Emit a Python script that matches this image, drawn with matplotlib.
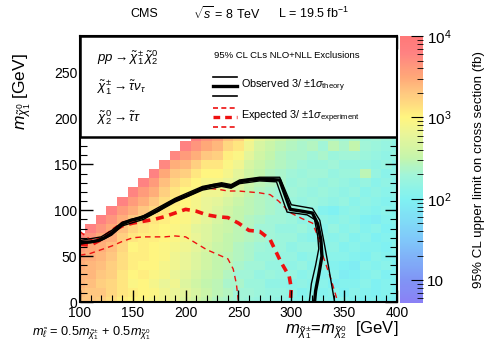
import numpy as np
import matplotlib
matplotlib.use('Agg')
from matplotlib import pyplot as plt
from matplotlib.colors import LinearSegmentedColormap, LogNorm
from matplotlib.patches import Rectangle
import matplotlib.ticker as ticker

plt.rcParams['font.family'] = ['Liberation Sans', 'DejaVu Sans']
plt.rcParams['mathtext.fontset'] = 'custom'
plt.rcParams['mathtext.rm'] = 'Liberation Sans'
plt.rcParams['mathtext.it'] = 'Liberation Sans:italic'
plt.rcParams['mathtext.bf'] = 'Liberation Sans:bold'

# grid of mass points (GeV)
mass_chargino = list(range(100, 401, 10))
mass_lsp = list(range(0, 181, 10))

# log10 of the 95% CL upper limit (fb), one list per chargino mass, from m_lsp = 0 upwards
limit_log10 = [
    [3.30, 3.35, 3.40, 3.40, 3.45, 3.50, 3.60, 3.75],
    [3.30, 3.30, 3.35, 3.40, 3.40, 3.45, 3.50, 3.65, 3.80],
    [3.25, 3.30, 3.25, 3.30, 3.35, 3.40, 3.45, 3.50, 3.65, 3.80],
    [3.15, 3.20, 3.20, 3.25, 3.25, 3.30, 3.35, 3.45, 3.50, 3.65, 3.80],
    [3.05, 3.10, 3.10, 3.10, 3.15, 3.15, 3.20, 3.25, 3.35, 3.45, 3.60, 3.80],
    [3.00, 3.05, 2.95, 3.00, 3.05, 3.05, 3.00, 3.10, 3.20, 3.30, 3.45, 3.60, 3.78],
    [2.95, 3.00, 3.00, 3.05, 3.00, 3.05, 3.05, 3.05, 3.10, 3.20, 3.30, 3.45, 3.60, 3.80],
    [2.90, 2.95, 2.90, 2.95, 3.00, 3.00, 3.00, 3.05, 3.05, 3.10, 3.20, 3.30, 3.45, 3.60, 3.80],
    [2.85, 2.85, 2.80, 2.90, 2.90, 2.95, 2.95, 3.00, 3.00, 3.05, 3.10, 3.15, 3.25, 3.35, 3.50, 3.75],
    [2.80, 2.80, 2.85, 2.80, 2.85, 2.85, 2.90, 2.95, 2.95, 3.00, 3.00, 3.05, 3.10, 3.20, 3.30, 3.45, 3.75],
    [2.70, 2.75, 2.70, 2.75, 2.80, 2.80, 2.85, 2.90, 2.90, 2.95, 2.95, 3.00, 3.00, 3.10, 3.25, 3.40, 3.60, 3.80],
    [2.60, 2.65, 2.60, 2.65, 2.70, 2.70, 2.75, 2.80, 2.75, 2.85, 2.90, 2.90, 2.95, 3.00, 3.10, 3.25, 3.45, 3.65, 3.80],
    [2.50, 2.55, 2.50, 2.55, 2.60, 2.60, 2.65, 2.70, 2.70, 2.75, 2.80, 2.80, 2.85, 2.90, 3.00, 3.10, 3.30, 3.50, 3.65],
    [2.40, 2.45, 2.45, 2.50, 2.50, 2.50, 2.55, 2.60, 2.60, 2.65, 2.70, 2.75, 2.85, 2.90, 3.00, 3.10, 3.25, 3.40, 3.55],
    [2.35, 2.40, 2.35, 2.40, 2.45, 2.45, 2.50, 2.50, 2.55, 2.55, 2.60, 2.65, 2.75, 2.80, 2.90, 2.95, 3.05, 3.20, 3.35],
    [2.30, 2.30, 2.35, 2.30, 2.35, 2.40, 2.40, 2.45, 2.45, 2.50, 2.50, 2.55, 2.65, 2.70, 2.75, 2.85, 2.95, 3.10, 3.25],
    [2.25, 2.30, 2.25, 2.30, 2.30, 2.35, 2.35, 2.40, 2.40, 2.40, 2.45, 2.45, 2.50, 2.55, 2.60, 2.65, 2.75, 2.85, 2.95],
    [2.20, 2.25, 2.25, 2.20, 2.30, 2.25, 2.30, 2.35, 2.30, 2.35, 2.40, 2.40, 2.40, 2.45, 2.50, 2.55, 2.60, 2.65, 2.75],
    [2.20, 2.20, 2.15, 2.25, 2.20, 2.25, 2.25, 2.30, 2.30, 2.30, 2.35, 2.35, 2.35, 2.40, 2.40, 2.45, 2.50, 2.55, 2.65],
    [2.15, 2.20, 2.15, 2.20, 2.20, 2.20, 2.25, 2.25, 2.20, 2.30, 2.30, 2.30, 2.30, 2.35, 2.35, 2.40, 2.40, 2.45, 2.55],
    [2.10, 2.15, 2.10, 2.20, 2.15, 2.20, 2.15, 2.25, 2.20, 2.25, 2.20, 2.25, 2.30, 2.25, 2.30, 2.35, 2.35, 2.40, 2.45],
    [2.10, 2.05, 2.15, 2.10, 2.20, 2.10, 2.20, 2.15, 2.25, 2.15, 2.25, 2.20, 2.25, 2.30, 2.25, 2.30, 2.35, 2.35, 2.40],
    [2.05, 2.10, 2.10, 2.15, 2.10, 2.15, 2.20, 2.10, 2.15, 2.20, 2.20, 2.25, 2.20, 2.25, 2.30, 2.25, 2.30, 2.40, 2.35],
    [2.10, 2.05, 2.10, 2.05, 2.15, 2.10, 2.10, 2.15, 2.10, 2.15, 2.05, 2.20, 2.25, 2.20, 2.30, 2.25, 2.35, 2.30, 2.40],
    [2.05, 2.10, 2.00, 2.10, 2.05, 2.10, 2.15, 2.10, 2.20, 2.10, 2.00, 2.15, 2.20, 2.25, 2.20, 2.30, 2.25, 2.45, 2.35],
    [2.10, 2.00, 2.05, 1.95, 2.00, 2.10, 2.05, 2.15, 2.10, 2.15, 2.10, 2.20, 2.15, 2.20, 2.25, 2.20, 2.30, 2.35, 2.30],
    [2.05, 2.10, 2.05, 2.00, 1.95, 2.05, 2.10, 2.05, 2.15, 2.10, 2.15, 2.10, 2.20, 2.15, 2.25, 2.20, 2.30, 2.50, 2.35],
    [2.00, 2.05, 2.10, 2.05, 2.10, 2.00, 2.05, 2.10, 2.05, 2.00, 2.10, 2.15, 2.10, 2.20, 2.45, 2.20, 2.25, 2.30, 2.25],
    [2.05, 2.00, 2.00, 2.10, 2.05, 2.10, 2.05, 2.00, 2.10, 1.95, 2.05, 2.10, 2.15, 2.10, 2.20, 2.15, 2.20, 2.25, 2.30],
    [2.00, 2.05, 2.05, 2.00, 2.10, 2.05, 2.00, 2.05, 2.00, 2.05, 2.10, 2.05, 2.10, 2.15, 2.10, 2.20, 2.15, 2.20, 2.25],
    [1.95, 2.00, 2.00, 2.05, 2.00, 2.05, 2.10, 2.05, 2.05, 2.10, 2.05, 2.10, 2.15, 2.10, 2.15, 2.10, 2.20, 2.15, 2.20],
]

# exclusion contours (m_chargino, m_lsp)
obs_x = [100, 110, 117, 123, 129, 135, 140, 148, 156, 164, 174, 182, 190, 202, 216, 226, 234, 243, 251, 261, 270, 281, 289, 299, 310, 320, 325, 328, 329, 326, 323, 322]
obs_y = [65, 65.5, 67, 70, 74, 80, 85, 89, 91, 94.5, 100, 106, 111, 116.5, 124, 127, 128, 126, 131, 133, 134, 133.5, 133, 101, 99, 97, 85, 68, 50, 30, 12, 0]
obs_up_x = [100, 120, 130, 140, 160, 190, 216, 234, 243, 251, 270, 289, 300, 320, 327, 331, 335, 338, 341]
obs_up_y = [67, 71, 78, 87, 94, 113, 126, 130, 128, 133, 136, 136, 106, 102, 89, 65, 40, 20, 0]
obs_dn_x = [100, 120, 130, 140, 160, 190, 216, 234, 243, 251, 270, 286, 296, 315, 322, 325, 326, 323, 319, 317]
obs_dn_y = [63, 67, 73, 83, 90, 109, 122, 126, 124, 129, 132, 131, 98, 95, 90, 72, 58, 40, 20, 0]

exp_x = [100, 110, 120, 130, 140, 150, 160, 170, 180, 190, 200, 210, 220, 230, 240, 250, 260, 270, 280, 290, 298, 300, 299]
exp_y = [63, 62, 68, 77, 83, 86, 88, 90, 93, 97, 101, 99, 95, 93, 92, 86, 78, 77, 68, 44, 28, 15, 0]
exp_up_x = [100, 105, 110, 120, 130, 140, 150, 160, 170, 180, 190, 200, 210, 220, 230, 240, 250, 260, 270, 280, 288, 298, 310, 320, 325, 330, 337, 344]
exp_up_y = [77, 72, 68, 70, 79, 87, 90, 93, 98, 104, 110, 115, 121, 124, 123, 121, 121, 120, 119, 117, 110, 98, 91, 86, 72, 50, 27, 0]
exp_dn_x = [100, 110, 120, 130, 140, 150, 160, 170, 180, 190, 200, 210, 220, 230, 240, 245, 248, 250]
exp_dn_y = [51, 53, 57, 61, 66, 70, 71, 71, 71, 72, 71, 64, 57, 52, 47, 36, 20, 0]

# colour scale, log10 positions
cmap_logs = [0.72, 1.0, 1.5, 2.0, 2.3, 2.5, 2.8, 3.0, 3.3, 3.5, 3.8, 4.0]
cmap_colors = ['#8a80f5', '#8095f5', '#80c8fa', '#80f2f2', '#a2f5d8', '#c4f5ac',
               '#eaf598', '#fff580', '#ffc880', '#ffa878', '#ff8282', '#ff7878']

zmin = 10 ** cmap_logs[0]
zmax = 10 ** cmap_logs[-1]
pos = [(v - cmap_logs[0]) / (cmap_logs[-1] - cmap_logs[0]) for v in cmap_logs]
cmap = LinearSegmentedColormap.from_list('lim', list(zip(pos, cmap_colors)))

Z = np.full((len(mass_lsp), len(mass_chargino)), np.nan)
for i, col in enumerate(limit_log10):
    for j, v in enumerate(col):
        Z[j, i] = 10 ** v

xedges = np.arange(95, 406, 10)
yedges = np.arange(-5, 186, 10)

fig = plt.figure(figsize=(4.98, 3.6), dpi=100)
ax = fig.add_axes([0.1606, 0.1611, 0.6365, 0.739])
mesh = ax.pcolormesh(xedges, yedges, np.ma.masked_invalid(Z), cmap=cmap,
                     norm=LogNorm(vmin=zmin, vmax=zmax), zorder=1)

ax.plot(obs_up_x, obs_up_y, color='black', lw=1.0, zorder=1.6)
ax.plot(obs_dn_x, obs_dn_y, color='black', lw=1.0, zorder=1.6)
ax.plot(obs_x, obs_y, color='black', lw=2.4, zorder=1.7)
ax.plot(exp_up_x, exp_up_y, color='#ee1111', lw=1.0, ls=(0, (4, 3)), zorder=1.5)
ax.plot(exp_dn_x, exp_dn_y, color='#ee1111', lw=1.0, ls=(0, (4, 3)), zorder=1.5)
ax.plot(exp_x, exp_y, color='#ee1111', lw=2.6, ls=(0, (2.2, 1.6)), zorder=1.5)

ax.set_xlim(100, 400)
ax.set_ylim(0, 290)

# white legend box on top of the map
ax.add_patch(Rectangle((100, 180), 300, 110, facecolor='white', edgecolor='black',
                       lw=1.8, zorder=2))
ax.text(116, 266, r'$pp \rightarrow \tilde{\chi}^{\pm}_{1}\,\tilde{\chi}^{0}_{2}$',
        fontsize=9.5, va='center', zorder=3)
ax.text(116, 234, r'$\tilde{\chi}^{\pm}_{1} \rightarrow \tilde{\tau}\nu_{\tau}$',
        fontsize=9.5, va='center', zorder=3)
ax.text(116, 201, r'$\tilde{\chi}^{0}_{2} \rightarrow \tilde{\tau}\tau$',
        fontsize=9.5, va='center', zorder=3)
ax.text(227, 269, '95% CL CLs NLO+NLL Exclusions', fontsize=6.8, va='center', zorder=3)
ax.plot([226, 249], [245, 245], color='black', lw=1.2, zorder=3)
ax.plot([226, 249], [235.5, 235.5], color='black', lw=2.4, zorder=3)
ax.plot([226, 249], [225, 225], color='black', lw=1.2, zorder=3)
ax.text(252, 236, r'Observed 3/ $\pm$1$\sigma_{\mathrm{theory}}$', fontsize=7.8, va='center', zorder=3)
ax.plot([226, 249], [211.5, 211.5], color='#ee1111', lw=1.2, ls=(0, (3, 2)), zorder=3)
ax.plot([226, 249], [201.5, 201.5], color='#ee1111', lw=2.4, ls=(0, (2, 1.5)), zorder=3)
ax.plot([226, 249], [191, 191], color='#ee1111', lw=1.2, ls=(0, (3, 2)), zorder=3)
ax.text(252, 202, r'Expected 3/ $\pm$1$\sigma_{\mathrm{experiment}}$', fontsize=7.8, va='center', zorder=3)

ax.xaxis.set_major_locator(ticker.MultipleLocator(50))
ax.xaxis.set_minor_locator(ticker.MultipleLocator(10))
ax.yaxis.set_major_locator(ticker.MultipleLocator(50))
ax.yaxis.set_minor_locator(ticker.MultipleLocator(10))
ax.tick_params(which='both', direction='in', top=True, right=True, labelsize=10, pad=2)
ax.tick_params(axis='x', pad=3)
ax.tick_params(which='major', length=9, width=1.0)
ax.tick_params(which='minor', length=5, width=0.8)
for s in ax.spines.values():
    s.set_linewidth(1.5)

cax = fig.add_axes([0.8032, 0.158, 0.046, 0.742])
cbar = fig.colorbar(mesh, cax=cax)
cbar.outline.set_visible(False)
cax.yaxis.set_major_locator(ticker.FixedLocator([10, 100, 1000, 10000]))
cax.yaxis.set_major_formatter(ticker.FixedFormatter(['10', r'$10^{2}$', r'$10^{3}$', r'$10^{4}$']))
cax.tick_params(which='both', direction='in', labelsize=11, pad=3)
cax.tick_params(which='major', length=9, width=0.8)
cax.tick_params(which='minor', length=4, width=0.6)
fig.text(0.962, 0.53, '95% CL upper limit on cross section (fb)', rotation=90,
         ha='center', va='center', fontsize=9.6)

fig.text(0.29, 0.962, 'CMS', ha='center', va='center', fontsize=9)
fig.text(0.455, 0.962, r'$\sqrt{s}$ = 8 TeV', ha='center', va='center', fontsize=9)
fig.text(0.63, 0.962, r'L = 19.5 fb$^{-1}$', ha='center', va='center', fontsize=9)

fig.text(0.045, 0.745, r'$m_{\tilde{\chi}^{0}_{1}}$ [GeV]', rotation=90,
         ha='center', va='center', fontsize=12.5)
fig.text(0.8, 0.083, r'$m_{\tilde{\chi}^{\pm}_{1}}$=$m_{\tilde{\chi}^{0}_{2}}$  [GeV]',
         ha='right', va='center', fontsize=12)
fig.text(0.064, 0.075, r'$m_{\tilde{\ell}}$ = 0.5$m_{\tilde{\chi}^{\pm}_{1}}$ + 0.5$m_{\tilde{\chi}^{0}_{1}}$',
         ha='left', va='center', fontsize=9.2)

plt.savefig('out.png', dpi=100)
